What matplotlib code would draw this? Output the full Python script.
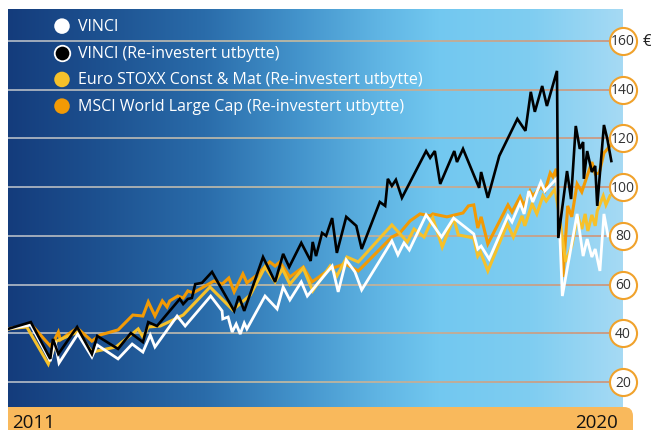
import numpy as np
import matplotlib
matplotlib.use("Agg")
import matplotlib.pyplot as plt
from matplotlib.collections import LineCollection
from matplotlib.colors import to_rgb
from matplotlib.patches import FancyBboxPatch, Rectangle

plt.rcParams['font.family'] = ['Open Sans', 'DejaVu Sans']

# series (decimal year, value in EUR)
vinci_t = [2011.00, 2011.34, 2011.63, 2011.70, 2011.76, 2012.04, 2012.25, 2012.33, 2012.64, 2012.85,
           2013.01, 2013.12, 2013.19, 2013.52, 2013.64, 2014.02, 2014.19, 2014.20, 2014.28, 2014.34,
           2014.40, 2014.46, 2014.52, 2014.56, 2014.83, 2015.01, 2015.10, 2015.20, 2015.37, 2015.46,
           2015.83, 2015.92, 2016.04, 2016.17, 2016.27, 2016.72, 2016.81, 2016.90, 2016.98, 2017.23,
           2017.46, 2017.64, 2017.94, 2018.00, 2018.05, 2018.17, 2018.45, 2018.51, 2018.63, 2018.69,
           2018.76, 2018.82, 2018.94, 2019.00, 2019.17, 2019.20, 2019.26, 2019.48, 2019.57, 2019.63,
           2019.70, 2019.75, 2019.82, 2019.88, 2019.94]
vinci_v = [41.8, 43.4, 28.6, 36.8, 27.8, 39.7, 30.3, 35.2, 29.5, 35.6,
           32.3, 39.3, 34.4, 47.1, 43.0, 55.3, 49.2, 45.9, 46.7, 40.5,
           43.8, 39.7, 44.2, 41.8, 55.3, 50.0, 59.0, 53.7, 61.1, 55.3,
           67.6, 57.0, 70.1, 65.2, 57.8, 77.9, 72.2, 77.1, 74.2, 88.6,
           79.5, 87.3, 80.8, 74.6, 75.8, 70.5, 88.2, 85.7, 93.5, 89.0,
           98.4, 93.9, 102.1, 98.4, 103.4, 96.0, 55.3, 89.0, 71.7, 78.7,
           71.3, 74.6, 65.6, 89.0, 80.0]

vinci_ri_t = [2011.00, 2011.34, 2011.63, 2011.67, 2011.75, 2012.03, 2012.25, 2012.33, 2012.64, 2012.83,
              2013.01, 2013.09, 2013.22, 2013.56, 2013.61, 2013.68, 2013.74, 2013.79, 2013.89, 2014.04,
              2014.37, 2014.44, 2014.52, 2014.80, 2014.98, 2015.10, 2015.19, 2015.37, 2015.51, 2015.54,
              2015.59, 2015.68, 2015.74, 2015.83, 2015.90, 2016.04, 2016.19, 2016.27, 2016.54, 2016.62,
              2016.66, 2016.72, 2016.78, 2016.87, 2017.23, 2017.29, 2017.36, 2017.44, 2017.65, 2017.69,
              2017.78, 2018.02, 2018.05, 2018.15, 2018.32, 2018.59, 2018.71, 2018.79, 2018.85, 2018.96,
              2019.03, 2019.18, 2019.20, 2019.33, 2019.39, 2019.46, 2019.52, 2019.57, 2019.58, 2019.63,
              2019.70, 2019.75, 2019.78, 2019.88, 2019.93, 2019.99]
vinci_ri_v = [41.8, 44.6, 29.5, 37.7, 31.5, 42.6, 31.5, 38.9, 33.6, 40.1,
              36.4, 44.6, 43.0, 54.1, 52.0, 54.1, 54.5, 60.2, 60.7, 65.2,
              49.2, 55.3, 49.2, 71.3, 61.1, 72.6, 67.2, 77.1, 69.7, 77.5,
              71.7, 81.2, 80.0, 87.3, 73.0, 87.8, 84.1, 74.6, 93.9, 92.3,
              103.4, 100.5, 103.0, 95.6, 114.8, 112.0, 114.8, 101.3, 114.8, 110.3,
              115.7, 99.7, 106.2, 95.6, 112.8, 128.0, 123.1, 139.1, 130.9, 141.5,
              133.3, 147.7, 79.1, 106.6, 95.1, 125.1, 115.7, 118.5, 103.4, 114.8,
              106.2, 108.7, 92.3, 125.5, 119.8, 110.7]

stoxx_t = [2011.00, 2011.28, 2011.60, 2011.72, 2012.04, 2012.25, 2012.61, 2012.94, 2013.01, 2013.09,
           2013.27, 2013.61, 2014.01, 2014.35, 2014.61, 2014.83, 2014.98, 2015.09, 2015.20, 2015.40,
           2015.54, 2015.80, 2015.90, 2016.05, 2016.22, 2016.72, 2016.95, 2017.05, 2017.20, 2017.33,
           2017.47, 2017.64, 2017.71, 2017.94, 2018.00, 2018.04, 2018.15, 2018.44, 2018.53, 2018.66,
           2018.70, 2018.81, 2018.88, 2018.97, 2019.02, 2019.15, 2019.20, 2019.31, 2019.40, 2019.49,
           2019.55, 2019.60, 2019.64, 2019.70, 2019.75, 2019.78, 2019.87, 2019.91, 2019.97]
stoxx_v = [41.8, 42.6, 27.4, 36.8, 40.5, 32.3, 34.4, 41.8, 38.5, 42.6,
           43.0, 47.5, 59.0, 49.6, 55.7, 67.2, 61.1, 66.4, 60.2, 66.8,
           57.4, 67.6, 63.5, 71.3, 69.3, 84.5, 77.5, 82.8, 79.5, 87.3,
           75.4, 87.3, 80.4, 79.1, 71.7, 73.4, 65.6, 84.9, 79.5, 88.2,
           84.1, 93.1, 89.0, 96.4, 94.3, 99.2, 91.0, 69.3, 75.8, 88.2,
           82.8, 89.0, 82.0, 88.6, 84.1, 90.2, 96.4, 92.7, 96.4]

msci_t = [2011.00, 2011.34, 2011.63, 2011.70, 2011.75, 2011.78, 2012.03, 2012.25, 2012.37, 2012.64,
          2012.86, 2013.01, 2013.09, 2013.19, 2013.30, 2013.37, 2013.41, 2013.53, 2013.61, 2013.68,
          2013.76, 2014.07, 2014.19, 2014.29, 2014.37, 2014.50, 2014.56, 2014.71, 2014.90, 2014.98,
          2015.05, 2015.20, 2015.40, 2015.53, 2015.80, 2016.02, 2016.22, 2016.72, 2016.84, 2016.99,
          2017.14, 2017.29, 2017.33, 2017.54, 2017.78, 2017.86, 2017.94, 2018.00, 2018.05, 2018.15,
          2018.45, 2018.51, 2018.63, 2018.69, 2018.78, 2018.82, 2018.94, 2019.00, 2019.08, 2019.12,
          2019.17, 2019.27, 2019.34, 2019.40, 2019.48, 2019.55, 2019.63, 2019.70, 2019.75, 2019.81,
          2019.88, 2019.97]
msci_v = [41.8, 43.8, 34.8, 37.7, 40.5, 37.3, 42.2, 36.8, 39.3, 41.4,
          47.5, 47.1, 52.9, 47.1, 53.3, 50.8, 53.3, 55.3, 54.5, 57.4,
          56.6, 61.5, 60.2, 62.7, 57.0, 64.4, 60.7, 63.9, 69.3, 67.6,
          69.3, 63.1, 67.2, 61.1, 66.4, 68.5, 65.6, 79.5, 81.2, 86.1,
          89.0, 88.2, 89.0, 87.8, 89.4, 92.3, 92.7, 83.2, 87.8, 76.7,
          92.7, 89.8, 96.0, 92.3, 98.4, 96.4, 100.1, 98.4, 105.8, 104.2,
          107.5, 63.1, 92.3, 87.8, 101.3, 98.0, 104.6, 110.3, 105.4, 105.8,
          114.0, 116.9]

labels = ['VINCI', 'VINCI (Re-investert utbytte)',
          'Euro STOXX Const & Mat (Re-investert utbytte)',
          'MSCI World Large Cap (Re-investert utbytte)']
y_ticks = [20, 40, 60, 80, 100, 120, 140, 160]
year_labels = ['2011', '2020']
year_pos = [2011.0, 2020.0]

colors = ['#ffffff', '#000000', '#f6c12a', '#f29a05']

W, H = 651, 431
fig = plt.figure(figsize=(W / 100, H / 100), dpi=100)

# decoration layer in pixel units
bg = fig.add_axes([0, 0, 1, 1], zorder=-1)
bg.set_xlim(0, W)
bg.set_ylim(H, 0)
bg.axis('off')
band = FancyBboxPatch((8, 408), 625, 40, boxstyle='round,pad=0,rounding_size=9',
                      fc='#f9b95c', ec='none')
bg.add_patch(band)
bg.add_patch(Rectangle((8, 408), 30, 40, fc='#f9b95c', ec='none'))

ax = fig.add_axes([8 / W, 23 / H, 615 / W, 398 / H])
xlim = (2011.0, 2020.164)
ylim = (9.76, 173.1)

# horizontal blue gradient
stops = [(0.0, '#143c7c'), (0.15, '#1d5190'), (0.32, '#2a6caa'), (0.47, '#4393cb'),
         (0.6, '#5fb4e3'), (0.7, '#72c8f0'), (0.85, '#7fcdf1'), (1.0, '#a6daf4')]
xs = np.linspace(0, 1, 600)
pos = [s[0] for s in stops]
rgb = np.array([to_rgb(s[1]) for s in stops])
grad = np.stack([np.interp(xs, pos, rgb[:, k]) for k in range(3)], axis=-1)[None, :, :]
ax.imshow(grad, extent=[xlim[0], xlim[1], ylim[0], ylim[1]], aspect='auto', zorder=0)

# gridlines fading from pale grey to salmon
gx = np.linspace(xlim[0], xlim[1], 120)
gstops = [(0.0, '#c4c9d0'), (0.45, '#d2bf9c'), (1.0, '#d58a68')]
gpos = [s[0] for s in gstops]
grgb = np.array([to_rgb(s[1]) for s in gstops])
frac = (gx[:-1] - xlim[0]) / (xlim[1] - xlim[0])
gcols = np.stack([np.interp(frac, gpos, grgb[:, k]) for k in range(3)], axis=-1)
for v in y_ticks:
    segs = [[(gx[i], v), (gx[i + 1], v)] for i in range(len(gx) - 1)]
    ax.add_collection(LineCollection(segs, colors=gcols, linewidths=1.1, zorder=1))

ax.plot(msci_t, msci_v, color=colors[3], lw=2.2, zorder=2, solid_joinstyle='miter')
ax.plot(stoxx_t, stoxx_v, color=colors[2], lw=2.2, zorder=3, solid_joinstyle='miter')
ax.plot(vinci_t, vinci_v, color=colors[0], lw=2.0, zorder=4, solid_joinstyle='miter')
ax.plot(vinci_ri_t, vinci_ri_v, color=colors[1], lw=1.9, zorder=5, solid_joinstyle='miter')

ax.set_xlim(*xlim)
ax.set_ylim(*ylim)
ax.axis('off')

# right value axis as circles
ax.scatter([xlim[1]] * len(y_ticks), y_ticks, s=380, fc='white', ec='#f0a22c',
           lw=1.5, zorder=6, clip_on=False)
for v in y_ticks:
    ax.text(xlim[1], v, str(v), ha='center', va='center', fontsize=10,
            color='#333333', zorder=7, clip_on=False)
ax.annotate('€', xy=(xlim[1], y_ticks[-1]), xytext=(14, 0), textcoords='offset points',
            ha='left', va='center', fontsize=12, color='#222222', annotation_clip=False)

# year labels in the orange band
for lab, t, ha, dx in zip(year_labels, year_pos, ['left', 'right'], [3, 4]):
    ax.annotate(lab, xy=(t, 0), xycoords=('data', 'axes fraction'),
                xytext=(dx, -14.5), textcoords='offset points', ha=ha, va='baseline',
                fontsize=13.5, color='#111111', annotation_clip=False)

# legend with round markers
for i, (lab, c) in enumerate(zip(labels, colors)):
    y = 0.957 - i * 0.067
    ax.scatter([0.0878], [y], s=125, fc=c, ec='white' if c == '#000000' else 'none',
               lw=1.3, transform=ax.transAxes, zorder=8, clip_on=False)
    ax.text(0.114, y, lab, transform=ax.transAxes, ha='left', va='center',
            fontsize=11.5, color='white', zorder=8)

fig.savefig('out.png', dpi=100)
